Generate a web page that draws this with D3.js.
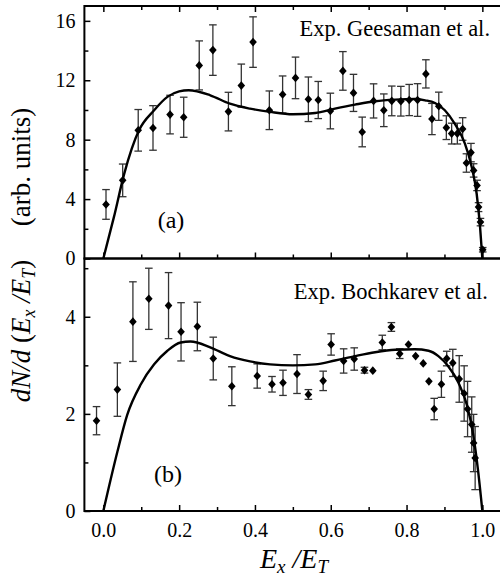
<!DOCTYPE html>
<html>
<head>
<meta charset="utf-8">
<script src="https://cdn.jsdelivr.net/npm/d3@7"></script>
<style>
  body { margin: 0; background: #fff; }
  svg text { font-family: "Liberation Serif", "Times New Roman", Tinos, "Nimbus Roman", "DejaVu Serif", serif; fill: #000; }
  .axis path { display: none; }
  .axis line { stroke: #000; stroke-width: 1.5; }
  .axis text { font-size: 20px; }
</style>
</head>
<body>
<div id="chart"></div>
<script>
// Panel (a): Geesaman et al.
const topX = [0.007, 0.051, 0.092, 0.131, 0.176, 0.212, 0.253, 0.289, 0.330, 0.364,
  0.395, 0.438, 0.473, 0.507, 0.541, 0.567, 0.599, 0.632, 0.660, 0.683,
  0.713, 0.740, 0.761, 0.785, 0.807, 0.829, 0.851, 0.867, 0.885, 0.905,
  0.919, 0.934, 0.948, 0.958, 0.970, 0.977, 0.986, 0.990, 0.995, 1.001];
const topY = [3.64, 5.26, 8.63, 8.79, 9.69, 9.51, 13.0, 14.03, 9.89, 11.64,
  14.57, 9.98, 11.04, 12.16, 10.72, 10.67, 9.93, 12.63, 11.15, 8.52,
  10.61, 9.98, 10.61, 10.59, 10.67, 10.67, 12.43, 9.39, 10.25, 8.81,
  8.41, 8.41, 8.72, 6.43, 7.13, 5.93, 4.92, 3.46, 2.45, 0.59];
const topErr = [1.0, 1.1, 1.4, 1.5, 1.3, 1.35, 1.65, 1.7, 1.3, 1.45,
  1.7, 1.3, 1.25, 1.4, 1.5, 1.25, 1.2, 1.3, 1.25, 1.0,
  1.15, 1.1, 1.0, 1.0, 1.05, 1.1, 0.95, 1.05, 0.95, 0.8,
  0.7, 0.7, 0.76, 0.62, 0.62, 0.45, 0.35, 0.3, 0.25, 0.15];
const topCurveX = [0, 0.028, 0.055, 0.094, 0.134, 0.169, 0.2, 0.225, 0.282, 0.334,
  0.387, 0.44, 0.5, 0.559, 0.611, 0.664, 0.717, 0.77, 0.822, 0.849,
  0.875, 0.901, 0.927, 0.954, 0.972, 0.985, 0.994, 1.0];
const topCurveY = [0, 2.8, 5.7, 8.63, 9.98, 10.88, 11.25, 11.33, 10.99, 10.42,
  10.09, 9.87, 9.71, 9.8, 10.09, 10.36, 10.59, 10.7, 10.74, 10.65,
  10.47, 9.98, 9.08, 7.73, 6.16, 4.36, 2.11, 0];

// Panel (b): Bochkarev et al.
const botX = [-0.018, 0.037, 0.078, 0.120, 0.172, 0.205, 0.248, 0.290, 0.339, 0.406,
  0.445, 0.474, 0.511, 0.541, 0.580, 0.601, 0.634, 0.662, 0.689, 0.711,
  0.736, 0.760, 0.782, 0.805, 0.824, 0.844, 0.859, 0.873, 0.892, 0.906,
  0.922, 0.939, 0.952, 0.961, 0.972, 0.977, 0.981];
const botY = [1.86, 2.50, 3.90, 4.37, 4.23, 3.69, 3.80, 3.14, 2.57, 2.78,
  2.61, 2.64, 2.82, 2.40, 2.68, 3.43, 3.09, 3.13, 2.90, 2.89,
  3.47, 3.79, 3.24, 3.43, 3.19, 3.04, 2.67, 2.10, 2.61, 3.14,
  3.05, 2.72, 2.42, 2.10, 1.78, 1.40, 1.09];
const botErr = [0.29, 0.55, 0.82, 0.63, 0.68, 0.60, 0.50, 0.44, 0.40, 0.25,
  0.16, 0.26, 0.40, 0.10, 0.20, 0.22, 0.25, 0.23, 0.06, 0,
  0.15, 0.09, 0.10, 0, 0, 0, 0, 0.22, 0.27, 0.15,
  0.28, 0.48, 0.57, 0.57, 0.57, 0.59, 0.65];
const botCurveX = [0, 0.037, 0.063, 0.099, 0.134, 0.169, 0.204, 0.23, 0.282, 0.334,
  0.387, 0.44, 0.5, 0.559, 0.611, 0.664, 0.717, 0.77, 0.822, 0.858,
  0.884, 0.91, 0.937, 0.959, 0.976, 0.989, 1.0];
const botCurveY = [0, 1.22, 1.98, 2.61, 3.02, 3.30, 3.47, 3.49, 3.37, 3.19,
  3.08, 3.02, 3.0, 3.02, 3.10, 3.19, 3.27, 3.32, 3.33, 3.30,
  3.19, 2.98, 2.64, 2.19, 1.57, 0.81, 0];

const xTicks = [0, 0.2, 0.4, 0.6, 0.8, 1.0];
const xMinor = [0.1, 0.3, 0.5, 0.7, 0.9];
const topTicks = [0, 4, 8, 12, 16];
const topMinor = [2, 6, 10, 14];
const botTicks = [0, 2, 4];
const botMinor = [1, 3, 5];

const W = 500, H = 581;
const left = 84.4, right = 501.3;
const SERIF = '"Liberation Serif", "Times New Roman", Tinos, "Nimbus Roman", "DejaVu Serif", serif';
const topPanel = { y0: 6, y1: 258.5, domain: [0, 17] };
const botPanel = { y0: 258.5, y1: 511, domain: [0, 5.2] };

const svg = d3.select("#chart").append("svg")
  .attr("width", W).attr("height", H)
  .attr("font-family", SERIF);

const x = d3.scaleLinear().domain([-0.05, 1.05]).range([left, right]);

function diamond(cx, cy) {
  const a = 3.8, b = 4.3;
  return `M${cx},${cy - b}L${cx + a},${cy}L${cx},${cy + b}L${cx - a},${cy}Z`;
}

function drawPanel(p, xs, ys, errs, cx, cy, major, minor, showXLabels) {
  const y = d3.scaleLinear().domain(p.domain).range([p.y1, p.y0]);
  const g = svg.append("g");

  // y axis, ticks pointing inward
  g.append("g").attr("class", "axis")
    .attr("transform", `translate(${left},0)`)
    .call(d3.axisLeft(y).tickValues(major).tickSizeInner(-6).tickSizeOuter(0)
      .tickPadding(9).tickFormat(d3.format("d")))
    .attr("font-family", SERIF);
  g.append("g").attr("class", "axis")
    .attr("transform", `translate(${left},0)`)
    .call(d3.axisLeft(y).tickValues(minor).tickSizeInner(-4).tickSizeOuter(0).tickFormat(""));

  // bottom ticks
  g.append("g").attr("class", "axis")
    .attr("transform", `translate(0,${p.y1})`)
    .call(d3.axisBottom(x).tickValues(xTicks).tickSizeInner(-6).tickSizeOuter(0)
      .tickPadding(12).tickFormat(showXLabels ? d3.format(".1f") : ""))
    .attr("font-family", SERIF);
  g.append("g").attr("class", "axis")
    .attr("transform", `translate(0,${p.y1})`)
    .call(d3.axisBottom(x).tickValues(xMinor).tickSizeInner(-4).tickSizeOuter(0).tickFormat(""));

  // error bars
  const pts = xs.map((v, i) => ({ x: v, y: ys[i], e: errs[i] }));
  const eb = g.append("g").attr("stroke", "#333").attr("stroke-width", 1.3);
  pts.filter(d => d.e > 0).forEach(d => {
    const px = x(d.x), hi = y(d.y + d.e), lo = y(d.y - d.e);
    eb.append("line").attr("x1", px).attr("x2", px).attr("y1", hi).attr("y2", lo);
    eb.append("line").attr("x1", px - 3.8).attr("x2", px + 3.8).attr("y1", hi).attr("y2", hi);
    eb.append("line").attr("x1", px - 3.8).attr("x2", px + 3.8).attr("y1", lo).attr("y2", lo);
  });

  // theory curve
  const line = d3.line().x(d => x(d[0])).y(d => y(d[1])).curve(d3.curveMonotoneX);
  g.append("path")
    .datum(cx.map((v, i) => [v, cy[i]]))
    .attr("d", line)
    .attr("fill", "none")
    .attr("stroke", "#000")
    .attr("stroke-width", 2.4);

  g.selectAll(".pt").data(pts).enter().append("path")
    .attr("class", "pt")
    .attr("d", d => diamond(x(d.x), y(d.y)))
    .attr("fill", "#000");

  // frame
  g.append("rect")
    .attr("x", left).attr("y", p.y0)
    .attr("width", right - left).attr("height", p.y1 - p.y0)
    .attr("fill", "none").attr("stroke", "#000").attr("stroke-width", 2);
  return g;
}

const gTop = drawPanel(topPanel, topX, topY, topErr, topCurveX, topCurveY, topTicks, topMinor, false);
// top edge ticks of panel (a)
gTop.append("g").attr("class", "axis")
  .attr("transform", `translate(0,${topPanel.y0})`)
  .call(d3.axisTop(x).tickValues(xTicks).tickSizeInner(-6).tickSizeOuter(0).tickFormat(""));
gTop.append("g").attr("class", "axis")
  .attr("transform", `translate(0,${topPanel.y0})`)
  .call(d3.axisTop(x).tickValues(xMinor).tickSizeInner(-4).tickSizeOuter(0).tickFormat(""));

drawPanel(botPanel, botX, botY, botErr, botCurveX, botCurveY, botTicks, botMinor, true);

// annotations
svg.append("text").attr("x", 490).attr("y", 36).attr("text-anchor", "end")
  .style("font-size", "22.5px").text("Exp. Geesaman et al.");
svg.append("text").attr("x", 488).attr("y", 299).attr("text-anchor", "end")
  .style("font-size", "22.5px").text("Exp. Bochkarev et al.");
svg.append("text").attr("x", 171).attr("y", 228).attr("text-anchor", "middle")
  .style("font-size", "24px").text("(a)");
svg.append("text").attr("x", 168).attr("y", 482).attr("text-anchor", "middle")
  .style("font-size", "24px").text("(b)");

// x label
const xl = svg.append("text").attr("x", 294).attr("y", 568).attr("text-anchor", "middle")
  .style("font-size", "28px");
xl.append("tspan").style("font-style", "italic").text("E");
xl.append("tspan").style("font-style", "italic").style("font-size", "19px").attr("dy", 5).text("x");
xl.append("tspan").style("font-style", "italic").attr("dy", -5).text(" /E");
xl.append("tspan").style("font-style", "italic").style("font-size", "19px").attr("dy", 5).text("T");

// y label
svg.append("text").attr("transform", "translate(30,167) rotate(-90)")
  .attr("text-anchor", "middle").style("font-size", "27px").text("(arb. units)");
const yl = svg.append("text").attr("transform", "translate(30,331) rotate(-90)")
  .attr("text-anchor", "middle").style("font-size", "27px");
yl.append("tspan").style("font-style", "italic").text("dN/d");
yl.append("tspan").text(" (");
yl.append("tspan").style("font-style", "italic").text("E");
yl.append("tspan").style("font-style", "italic").style("font-size", "18px").attr("dy", 5).text("x");
yl.append("tspan").style("font-style", "italic").attr("dy", -5).text(" /E");
yl.append("tspan").style("font-style", "italic").style("font-size", "18px").attr("dy", 5).text("T");
yl.append("tspan").attr("dy", -5).text(")");
</script>
</body>
</html>
